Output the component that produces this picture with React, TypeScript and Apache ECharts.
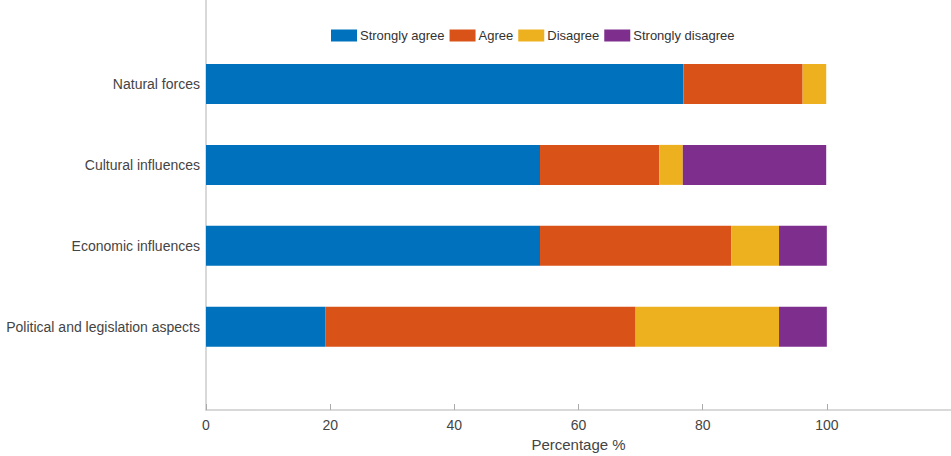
import React, { useEffect, useRef } from "react";
import * as echarts from "echarts";

const categories = [
  "Political and legislation aspects",
  "Economic influences",
  "Cultural influences",
  "Natural forces",
];
const seriesNames = ["Strongly agree", "Agree", "Disagree", "Strongly disagree"];
const stronglyAgree = [19.2, 53.8, 53.8, 76.9];
const agree = [50.0, 30.8, 19.2, 19.2];
const disagree = [23.1, 7.7, 3.8, 3.8];
const stronglyDisagree = [7.7, 7.7, 23.1, 0];
const xTicks = [0, 20, 40, 60, 80, 100];

const colors = ["#0072BD", "#D95319", "#EDB120", "#7E2F8E"];
const FONT = "'Liberation Sans', Arial, Helvetica, sans-serif";

export default function App() {
  const ref = useRef<HTMLDivElement>(null);
  useEffect(() => {
    if (!ref.current) return;
    const chart = echarts.init(ref.current, undefined, { renderer: "svg" });
    const values = [stronglyAgree, agree, disagree, stronglyDisagree];
    chart.setOption({
      animation: false,
      backgroundColor: "#ffffff",
      textStyle: { fontFamily: FONT },
      color: colors,
      legend: {
        left: 331,
        top: 29,
        icon: "rect",
        itemWidth: 26,
        itemHeight: 12,
        itemGap: 5,
        padding: 0,
        textStyle: { fontSize: 13, color: "#333", fontFamily: FONT, padding: [0, 0, 0, -2] },
        data: seriesNames,
      },
      grid: [
        { left: 206, right: 0, top: 43.5, bottom: 88.8, outerBoundsMode: "none" },
        { left: 206, right: 0, top: 0, bottom: 46, outerBoundsMode: "none" },
      ],
      xAxis: [
        {
          gridIndex: 0,
          type: "value",
          min: 0,
          max: 120,
          show: false,
        },
        {
          gridIndex: 1,
          type: "value",
          min: 0,
          max: 120,
          interval: 20,
          axisLine: { show: true, lineStyle: { color: "#cccccc", width: 1.5 } },
          axisTick: { show: true, inside: true, length: 6, lineStyle: { color: "#aaa" } },
          splitLine: { show: false },
          axisLabel: {
            margin: 8,
            fontSize: 14,
            color: "#444",
            fontFamily: FONT,
            formatter: (v: number) => (xTicks.includes(v) ? String(v) : ""),
          },
          name: "Percentage %",
          nameLocation: "middle",
          nameGap: 26.5,
          nameTextStyle: { fontSize: 15, color: "#444", fontFamily: FONT },
        },
      ],
      yAxis: [
        {
          gridIndex: 0,
          type: "category",
          data: categories,
          axisLine: { show: false },
          axisTick: { show: true, inside: true, length: 5, alignWithLabel: true, lineStyle: { color: "#999" } },
          axisLabel: { margin: 6, fontSize: 14, color: "#444", fontFamily: FONT },
        },
        {
          gridIndex: 1,
          type: "value",
          min: 0,
          max: 1,
          axisLine: { show: true, lineStyle: { color: "#cccccc", width: 1.5 } },
          axisTick: { show: false },
          axisLabel: { show: false },
          splitLine: { show: false },
        },
      ],
      series: seriesNames.map((name, i) => ({
        name,
        type: "bar",
        stack: "total",
        xAxisIndex: 0,
        yAxisIndex: 0,
        barWidth: 40,
        data: values[i],
        itemStyle: { color: colors[i] },
      })),
    });
    return () => chart.dispose();
  }, []);
  return (
    <div
      ref={ref}
      style={{ position: "fixed", left: 0, top: 0, width: 951, height: 456 }}
    />
  );
}
